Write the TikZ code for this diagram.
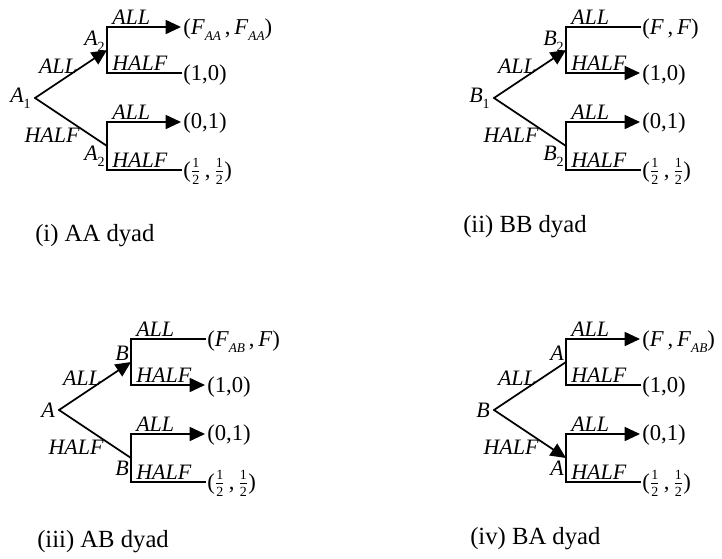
\documentclass[tikz,border=0pt]{standalone}
\usepackage{fontspec}
\setmainfont{Liberation Serif}
\usetikzlibrary{arrows.meta}
\newcommand\sbi[1]{\raisebox{-0.28em}{\fontsize{10}{10}\selectfont\itshape #1}}
\newcommand\sbn[1]{\raisebox{-0.28em}{\fontsize{10.5}{10.5}\selectfont\upshape #1}}
\newcommand\hfr{$\frac{\hbox{\fontsize{10.5}{10.5}\selectfont 1}}{\hbox{\fontsize{10.5}{10.5}\selectfont 2}}$}
\tikzset{
  edge/.style={line width=1.3pt, line cap=rect},
  arr/.style={-{Triangle[length=11.5pt,width=10.5pt]}, line cap=butt},
  lbl/.style={font=\fontsize{16.5}{16.5}\selectfont\itshape, inner sep=0pt},
  hlbl/.style={lbl, anchor=base west},
  vlbl/.style={lbl, anchor=east},
  pay/.style={font=\fontsize{17}{17}\selectfont, inner sep=0pt, anchor=base west},
  capt/.style={font=\fontsize{18.5}{18.5}\selectfont, inner sep=0pt, anchor=base west}
}
% #1 root label, #2 upper vertex label, #3 lower vertex label, #4 top payoff,
% #5 root-up style, #6 root-low style, #7 top ALL style, #8 upper HALF style
\newcommand\drawtree[8]{%
  \coordinate (r) at (0,0);
  \coordinate (u) at (72,-48);
  \coordinate (l) at (72,48);
  \coordinate (ut) at (72,-71);
  \coordinate (ub) at (72,-25);
  \coordinate (lt) at (72,24);
  \coordinate (lb) at (72,72);
  \coordinate (e1) at (146,-71);
  \coordinate (e2) at (146,-25);
  \coordinate (e3) at (146,24);
  \coordinate (e4) at (146,72);
  \node[vlbl] (rl) at (-4,0) {#1};
  \node[vlbl] (ul) at (70,-57) {#2};
  \node[vlbl] (ll) at (70,58) {#3};
  \node[lbl] (la) at (23,-32) {ALL};
  \node[lbl] (lh) at (17,37) {HALF};
  \node[hlbl] (h1) at (77,-74) {ALL};
  \node[hlbl] (h2) at (77,-28) {HALF};
  \node[hlbl] (h3) at (77,21) {ALL};
  \node[hlbl] (h4) at (77,69) {HALF};
  \node[pay] (p1) at (148,-64) {#4};
  \node[pay] (p2) at (148,-18) {(1,0)};
  \node[pay] (p3) at (148,30.5) {(0,1)};
  \node[pay] (p4) at (148,79) {(\hfr\,,\,\hfr)};
  \draw[edge,#5] (r) -- (u);
  \draw[edge,#6] (r) -- (l);
  \draw[edge] (ut) -- (ub);
  \draw[edge] (lt) -- (lb);
  \draw[edge,#7] (ut) -- (e1);
  \draw[edge,#8] (ub) -- (e2);
  \draw[edge,arr] (lt) -- (e3);
  \draw[edge] (lb) -- (e4);
}
\begin{document}
\begin{tikzpicture}[x=0.75pt, y=-0.75pt]
  \path[use as bounding box] (0,0) rectangle (722,558);
  \begin{scope}[shift={(35,98)}, name prefix=i-]
    \drawtree{A\sbn{1}}{A\sbn{2}}{A\sbn{2}}{(\textit{F}\sbi{AA}\,,\,\textit{F}\sbi{AA})}{arr}{}{arr}{}
  \end{scope}
  \begin{scope}[shift={(494,98)}, name prefix=ii-]
    \drawtree{B\sbn{1}}{B\sbn{2}}{B\sbn{2}}{(\textit{F}\,,\,\textit{F})}{arr}{}{}{arr}
  \end{scope}
  \begin{scope}[shift={(59,410)}, name prefix=iii-]
    \drawtree{A}{B}{B}{(\textit{F}\sbi{AB}\,,\,\textit{F})}{arr}{}{}{arr}
  \end{scope}
  \begin{scope}[shift={(494,410)}, name prefix=iv-]
    \drawtree{B}{A}{A}{(\textit{F}\,,\,\textit{F}\sbi{AB})}{}{arr}{arr}{}
  \end{scope}
  \node[capt] (c1) at (35,241) {(i) AA dyad};
  \node[capt] (c2) at (463,232) {(ii) BB dyad};
  \node[capt] (c3) at (37,547) {(iii) AB dyad};
  \node[capt] (c4) at (470,544) {(iv) BA dyad};
\end{tikzpicture}
\end{document}
